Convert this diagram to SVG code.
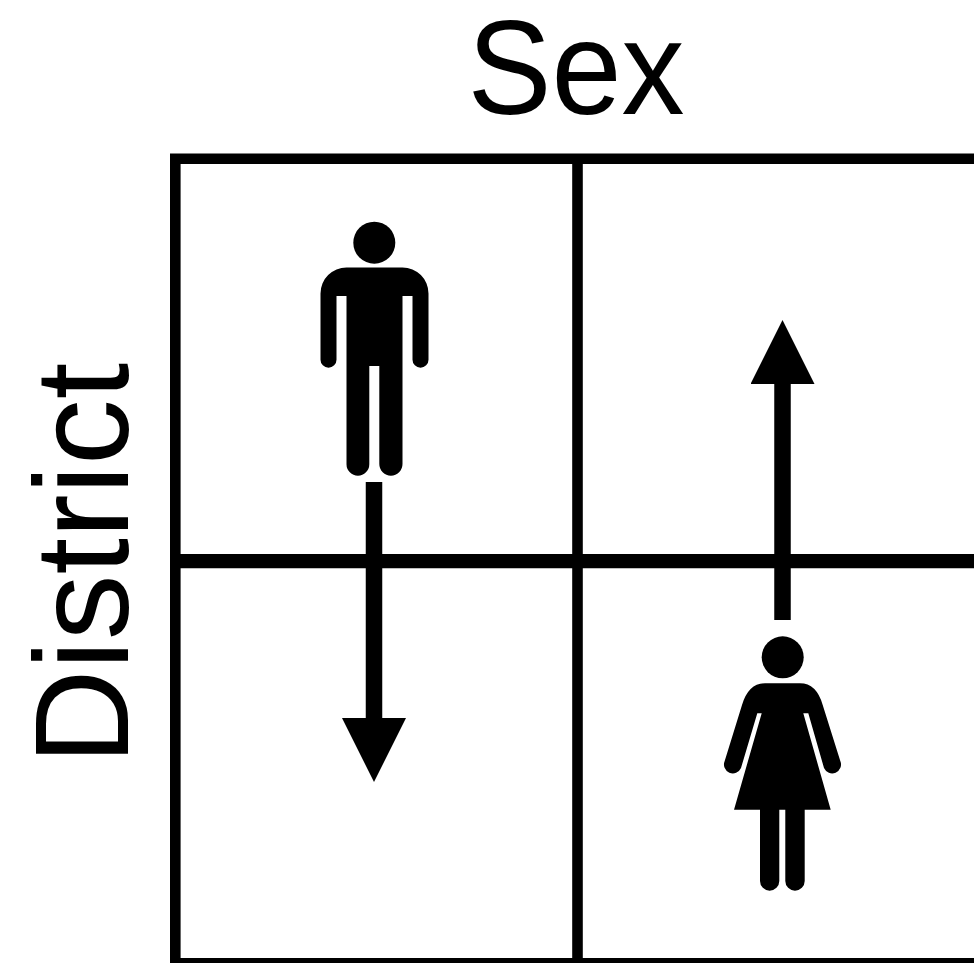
<svg xmlns="http://www.w3.org/2000/svg" width="974" height="963" viewBox="0 0 974 963">
<style>
.label{font-family:"Liberation Sans",Arial,sans-serif;font-size:133px;fill:#000}
.grid{fill:none;stroke:#000;stroke-width:10.6}
.grid-mid{fill:none;stroke:#000;stroke-width:14.3}
.conn{fill:none;stroke:#000;stroke-width:16.5}
.fig{fill:#000}
</style>
<defs>
<marker id="head" markerUnits="userSpaceOnUse" markerWidth="65" markerHeight="64" viewBox="0 0 65 64" refX="1" refY="32" orient="auto"><path d="M0 0L64 32L0 64Z" fill="#000"/></marker>
</defs>
<rect width="974" height="963" fill="#fff"/>
<g id="grid">
<path class="grid" d="M990 158.800H175.300V963.300H990M577.500 158.800V963.300"/>
<path class="grid-mid" d="M175.300 561.200H990"/>
</g>
<g id="label-sex"><text class="label" x="467.500" y="114" textLength="217" lengthAdjust="spacingAndGlyphs">Sex</text></g>
<g id="label-district"><text class="label" transform="translate(127.700 764.500) rotate(-90)" textLength="401.700" lengthAdjust="spacingAndGlyphs">District</text></g>
<g id="connectors">
<path class="conn" d="M374 482V719" marker-end="url(#head)"/>
<path class="conn" d="M782.500 620V383" marker-end="url(#head)"/>
</g>
<g id="man" class="fig">
<circle cx="374.300" cy="242.700" r="21"/>
<path d="M346.500 267.500H402.500A26 26 0 0 1 428.500 293.500V359.700A8 8 0 0 1 412.500 359.700V296H402.500V464.100A11.600 11.600 0 0 1 379.300 464.100V366H369.300V464.300A11.400 11.400 0 0 1 346.500 464.300V296H336.500V359.700A8 8 0 0 1 320.500 359.700V293.500A26 26 0 0 1 346.500 267.500Z"/>
</g>
<g id="woman" class="fig">
<circle cx="782.700" cy="657.300" r="21"/>
<path d="M765 683.300H800Q816.500 683.300 822.700 705L840.300 761A8.700 8.700 0 0 1 824 768L808.300 713.300H803.300L830.700 809.700H804.700V881A9.700 9.700 0 0 1 785.300 881V809.700H779.300V881A9.650 9.650 0 0 1 760 881V809.700H734L761.700 713.300H757.300L741 768A8.700 8.700 0 0 1 724.700 761L742 705Q748.500 683.300 765 683.300Z"/>
</g>
</svg>
